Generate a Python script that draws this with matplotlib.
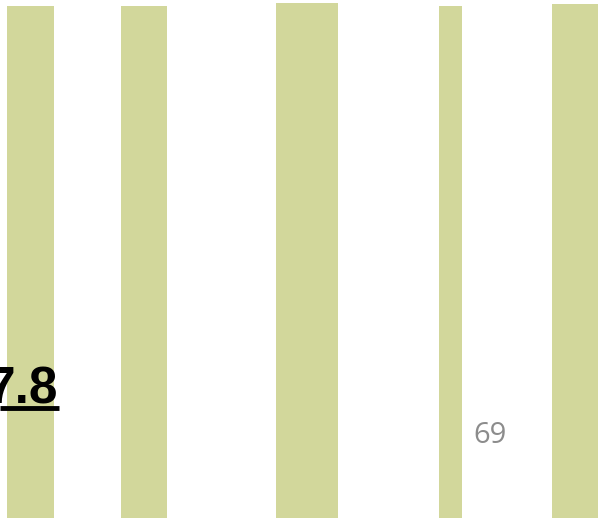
import matplotlib.pyplot as plt

# bar data (centres on a pixel-like scale, heights)
centers = [30.5, 144, 307, 450.5, 575]
widths = [47, 46, 62, 23, 46]
values = [512, 512, 515, 512, 514]
bar_color = "#d2d79b"

big_label = "7.8"
small_label = "69"

fig = plt.figure(figsize=(5.98, 5.19), dpi=100)
ax = fig.add_axes([0, 0, 1, 1])
ax.bar(centers, values, width=widths, color=bar_color, bottom=0)
ax.set_xlim(0, 598)
ax.set_ylim(-1, 518)
ax.axis("off")

# big bold underlined number, partly cut at the left edge (as in the original)
ax.text(58, 115, big_label, ha="right", va="baseline", fontsize=37,
        fontweight="bold", color="black", family="Liberation Sans")
ax.plot([0, 59], [110, 110], color="black", linewidth=3.5,
        solid_capstyle="butt")

ax.text(490, 75, small_label, ha="center", va="baseline", fontsize=21,
        color="#8c8c8c", family="Open Sans")

fig.savefig("out.png", dpi=100)
